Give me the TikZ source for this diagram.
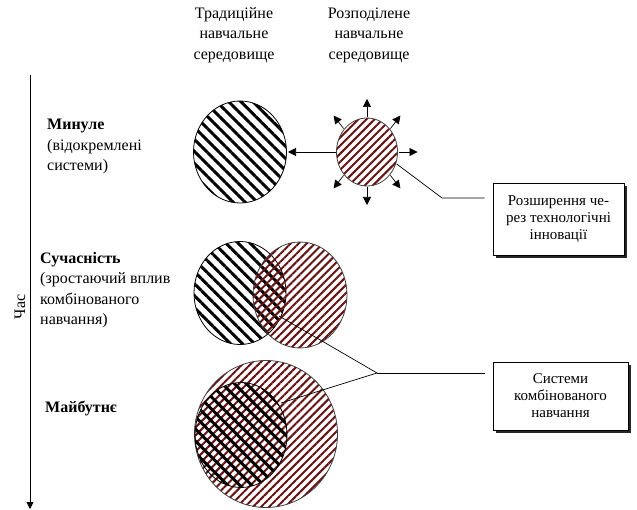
\documentclass[tikz,border=0pt]{standalone}
\usepackage{fontspec}
\setmainfont{Liberation Serif}
\usetikzlibrary{shapes.geometric,patterns.meta,arrows.meta,shadows}
\definecolor{hatchred}{RGB}{105,18,18}
\begin{document}
\begin{tikzpicture}[x=1pt,y=-1pt,
  lbl/.style={inner sep=0pt, font=\fontsize{16}{20.5}\selectfont, align=center},
  side/.style={inner sep=0pt, font=\fontsize{16}{20.5}\selectfont, align=left, anchor=north west},
  boxtxt/.style={draw=black, line width=0.8pt, fill=white, inner sep=0pt, align=center,
    font=\fontsize{15}{17}\selectfont,
    drop shadow={shadow xshift=3pt, shadow yshift=-3pt, fill=black!85, opacity=1}},
  trad/.style={ellipse, inner sep=0pt, draw=black, line width=0.8pt,
    pattern={Lines[angle=-45,distance=8.5pt,line width=3pt]}, pattern color=black},
  dist/.style={ellipse, inner sep=0pt, draw=black!75, line width=0.8pt,
    pattern={Lines[angle=45,distance=5.7pt,line width=2pt]}, pattern color=hatchred},
  arr/.style={-{Triangle[length=8pt,width=8pt]}, line width=0.7pt},
  axisarr/.style={-{Triangle[length=7pt,width=7pt]}, line width=0.8pt},
  link/.style={line width=0.7pt}
]
\useasboundingbox (0,0) rectangle (637,510);

% column headings
\node[lbl] (headT) at (234,35) {Традиційне\\навчальне\\середовище};
\node[lbl] (headD) at (369,35) {Розподілене\\навчальне\\середовище};

% time axis
\coordinate (axTop) at (30,75);
\coordinate (axEnd) at (30,509);
\draw[axisarr] (axTop) -- (axEnd);
\node[lbl, rotate=90] (time) at (20,307) {Час};

% period labels
\node[side] (lPast) at (47,119) {\textbf{Минуле}\\(відокремлені\\системи)};
\node[side] (lNow) at (40,252) {\textbf{Сучасність}\\(зростаючий вплив\\комбінованого\\навчання)};
\node[side] (lFut) at (45,401) {\textbf{Майбутнє}};

% past: separate systems
\node[trad, minimum width=93pt, minimum height=102pt] (pastT) at (240,152) {};
\node[dist, minimum width=61pt, minimum height=68pt] (pastD) at (367,152) {};
\draw[arr] (pastD.west) -- (pastT.east);
\draw[arr] (pastD.north) -- ++(0,-18);
\draw[arr] (pastD.east) -- ++(19,0);
\draw[arr] (pastD.south) -- ++(0,18);
\draw[arr] (pastD.45) -- ++(10,-13);
\draw[arr] (pastD.135) -- ++(-10,-13);
\draw[arr] (pastD.-45) -- ++(10,13);
\draw[arr] (pastD.-135) -- ++(-10,13);

% present: overlapping systems
\node[trad, minimum width=92pt, minimum height=103pt] (nowT) at (240,293) {};
\node[dist, minimum width=94pt, minimum height=106pt] (nowD) at (300,295) {};

% future: blended systems
\node[dist, minimum width=143pt, minimum height=147pt] (futD) at (266,434) {};
\node[trad, minimum width=92pt, minimum height=105pt] (futT) at (241,435) {};

% callout boxes
\node[boxtxt, minimum width=131pt, minimum height=72pt] (box1) at (558.5,219)
  {Розширення че-\\рез технологічні\\інновації};
\node[boxtxt, minimum width=135pt, minimum height=68pt] (box2) at (560.5,396)
  {Системи\\комбінованого\\навчання};

% leader lines
\coordinate (k1) at (442,198);
\draw[link, shorten >=8pt] (pastD.-22) -- (k1) -- (k1 -| box1.west);
\coordinate (k2) at (377,373);
\coordinate (s2) at (279,316);
\coordinate (s3) at (281,403);
\draw[link] (s2) -- (k2) -- (s3);
\draw[link, shorten >=8pt] (k2) -- (k2 -| box2.west);
\end{tikzpicture}
\end{document}
